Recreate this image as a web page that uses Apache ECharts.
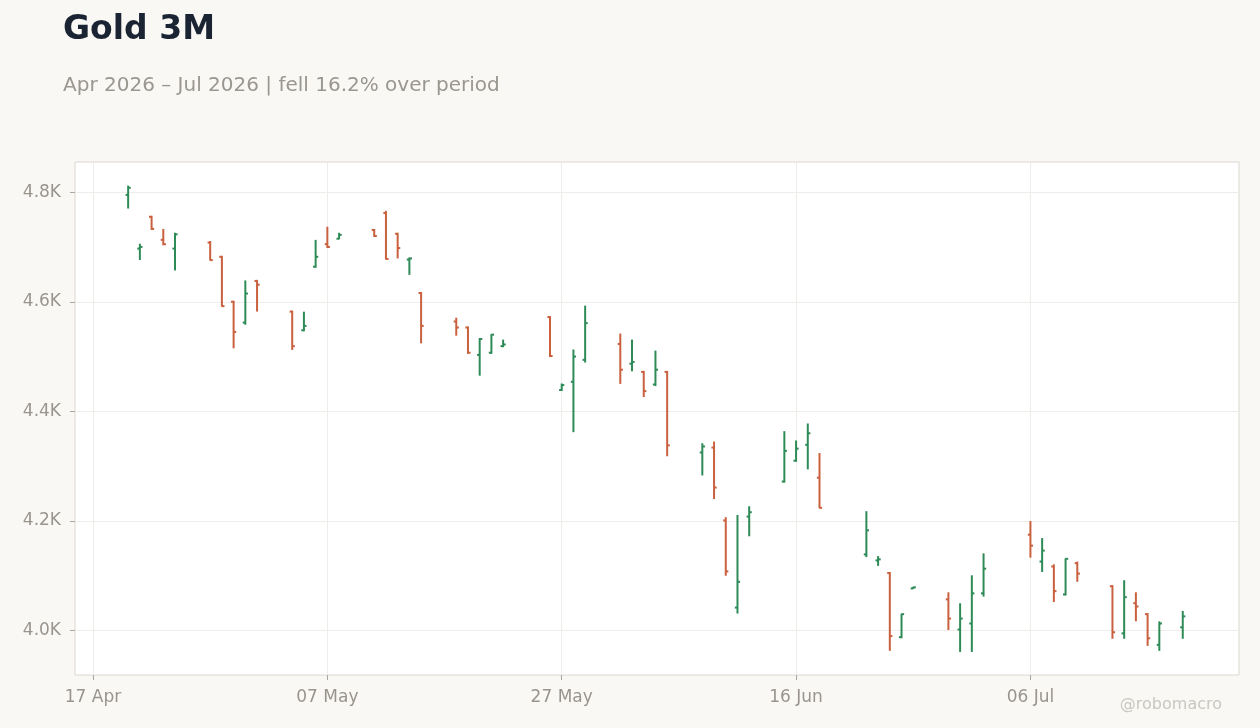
<!DOCTYPE html>
<html>
<head>
<meta charset="utf-8">
<script src="https://cdn.jsdelivr.net/npm/echarts@6/dist/echarts.min.js"></script>
<style>
  html, body { margin: 0; padding: 0; background: #f9f8f5; }
  #chart { width: 1260px; height: 728px; }
</style>
</head>
<body>
<div id="chart"></div>
<script>
// ---- Data ----
const dates = [
  '2026-04-20','2026-04-21','2026-04-22','2026-04-23','2026-04-24',
  '2026-04-27','2026-04-28','2026-04-29','2026-04-30','2026-05-01',
  '2026-05-04','2026-05-05','2026-05-06','2026-05-07','2026-05-08',
  '2026-05-11','2026-05-12','2026-05-13','2026-05-14','2026-05-15',
  '2026-05-18','2026-05-19','2026-05-20','2026-05-21','2026-05-22',
  '2026-05-26','2026-05-27','2026-05-28','2026-05-29',
  '2026-06-01','2026-06-02','2026-06-03','2026-06-04','2026-06-05',
  '2026-06-08','2026-06-09','2026-06-10','2026-06-11','2026-06-12',
  '2026-06-15','2026-06-16','2026-06-17','2026-06-18',
  '2026-06-22','2026-06-23','2026-06-24','2026-06-25','2026-06-26',
  '2026-06-29','2026-06-30','2026-07-01','2026-07-02',
  '2026-07-06','2026-07-07','2026-07-08','2026-07-09','2026-07-10',
  '2026-07-13','2026-07-14','2026-07-15','2026-07-16','2026-07-17',
  '2026-07-19'
];
const openV = [
  4795,4697,4755,4713,4697,
  4708,4682,4600,4562,4638,
  4582,4548,4664,4705,4715,
  4731,4762,4724,4677,4616,
  4564,4553,4503,4507,4519,
  4572,4439,4454,4494,
  4523,4487,4472,4449,4472,
  4325,4334,4201,4042,4208,
  4272,4310,4339,4279,
  4139,4128,4105,3988,4077,
  4057,4002,4013,4068,
  4175,4126,4117,4066,4123,
  4081,3995,4050,4030,3974,
  4006
];
const highV = [
  4811,4705,4756,4732,4725,
  4710,4683,4601,4638,4639,
  4583,4581,4712,4736,4725,
  4732,4765,4725,4680,4617,
  4570,4554,4533,4540,4530,
  4573,4450,4512,4592,
  4541,4530,4473,4510,4473,
  4341,4344,4206,4210,4226,
  4363,4346,4377,4323,
  4217,4135,4106,4030,4079,
  4069,4049,4100,4140,
  4199,4168,4120,4131,4125,
  4082,4091,4069,4031,4016,
  4035
];
const lowV = [
  4771,4677,4732,4704,4658,
  4676,4592,4516,4559,4583,
  4513,4547,4663,4699,4715,
  4719,4678,4680,4650,4525,
  4539,4506,4466,4506,4518,
  4500,4438,4363,4490,
  4451,4474,4427,4447,4319,
  4284,4241,4101,4032,4173,
  4271,4309,4295,4224,
  4135,4119,3964,3987,4077,
  4002,3962,3962,4063,
  4134,4108,4053,4065,4090,
  3986,3986,4018,3973,3964,
  3986
];
const closeV = [
  4808,4700,4733,4705,4723,
  4676,4592,4545,4615,4631,
  4519,4556,4682,4700,4722,
  4720,4678,4698,4679,4556,
  4553,4507,4532,4540,4522,
  4501,4448,4500,4561,
  4476,4490,4437,4476,4338,
  4336,4261,4108,4089,4216,
  4328,4332,4360,4224,
  4183,4130,3990,4030,4079,
  4022,4022,4068,4113,
  4155,4146,4072,4131,4104,
  3997,4061,4044,3986,4013,
  4026
];
const xTickDates = ['2026-04-17','2026-05-07','2026-05-27','2026-06-16','2026-07-06'];
const yTicks = [4000, 4200, 4400, 4600, 4800];
const titleText = 'Gold 3M';
const subtitleText = 'Apr 2026 \u2013 Jul 2026 | fell 16.2% over period';
const MONTHS = ['Jan','Feb','Mar','Apr','May','Jun','Jul','Aug','Sep','Oct','Nov','Dec'];

// ---- helpers ----
const DAY = 86400000;
function toDay(s) {
  const p = s.split('-').map(Number);
  return Math.round(Date.UTC(p[0], p[1] - 1, p[2]) / DAY);
}
function dayLabel(d) {
  const dt = new Date(Math.round(d) * DAY);
  const dd = String(dt.getUTCDate()).padStart(2, '0');
  return dd + ' ' + MONTHS[dt.getUTCMonth()];
}

const seriesData = dates.map((d, i) => [toDay(d), openV[i], highV[i], lowV[i], closeV[i]]);
const xTicks = xTickDates.map(toDay);

const UP = '#2e8b57';
const DOWN = '#c9603e';
const TICK = 2.6;

const chart = echarts.init(document.getElementById('chart'), null, { renderer: 'canvas' });

const option = {
  backgroundColor: '#f9f8f5',
  animation: false,
  title: [
    {
      text: titleText, left: 63, top: 14, padding: 0,
      textStyle: { fontFamily: 'DejaVu Sans', fontSize: 33, fontWeight: 'bold', color: '#1b2433' }
    },
    {
      text: subtitleText, left: 63, top: 76, padding: 0,
      textStyle: { fontFamily: 'DejaVu Sans', fontSize: 20, fontWeight: 'normal', color: '#9a9690' }
    }
  ],
  graphic: [
    {
      type: 'text', right: 38, top: 697,
      style: { text: '@robomacro', fill: '#cac7c2', font: '16px "DejaVu Sans"' }
    }
  ],
  grid: {
    left: 75, right: 21, top: 162, bottom: 53,
    show: true, backgroundColor: '#ffffff', borderColor: '#dcd8d2', borderWidth: 1
  },
  xAxis: {
    type: 'value',
    min: toDay('2026-04-17') - 1.536,
    max: toDay('2026-04-17') + 97.8,
    axisLine: { show: false },
    axisTick: { show: true, length: 5, lineStyle: { color: '#a9a59f' }, customValues: xTicks },
    axisLabel: {
      customValues: xTicks,
      margin: 14,
      color: '#99948e', fontFamily: 'DejaVu Sans', fontSize: 17,
      formatter: v => dayLabel(v)
    },
    splitLine: { show: true, lineStyle: { color: '#efedea', width: 1 } }
  },
  yAxis: {
    type: 'value',
    min: 3919, max: 4855,
    axisLine: { show: false },
    axisTick: { show: true, length: 5, lineStyle: { color: '#a9a59f' }, customValues: yTicks },
    axisLabel: {
      customValues: yTicks,
      margin: 14,
      color: '#99948e', fontFamily: 'DejaVu Sans', fontSize: 17,
      formatter: v => (v / 1000).toFixed(1) + 'K'
    },
    splitLine: { show: true, lineStyle: { color: '#efedea', width: 1 } }
  },
  series: [
    {
      type: 'custom',
      data: seriesData,
      encode: { x: 0, y: [1, 2, 3, 4] },
      renderItem: function (params, api) {
        const x = api.value(0);
        const o = api.value(1), h = api.value(2), l = api.value(3), c = api.value(4);
        const pH = api.coord([x, h]);
        const pL = api.coord([x, l]);
        const pO = api.coord([x, o]);
        const pC = api.coord([x, c]);
        const color = c >= o ? UP : DOWN;
        const st = { stroke: color, lineWidth: 2, lineCap: 'butt' };
        return {
          type: 'group',
          children: [
            { type: 'line', shape: { x1: pH[0], y1: pH[1] - 0.5, x2: pL[0], y2: pL[1] + 0.5 }, style: st },
            { type: 'line', shape: { x1: pO[0] - TICK, y1: pO[1], x2: pO[0], y2: pO[1] }, style: st },
            { type: 'line', shape: { x1: pC[0], y1: pC[1], x2: pC[0] + TICK, y2: pC[1] }, style: st }
          ]
        };
      }
    }
  ]
};
chart.setOption(option);
</script>
</body>
</html>
